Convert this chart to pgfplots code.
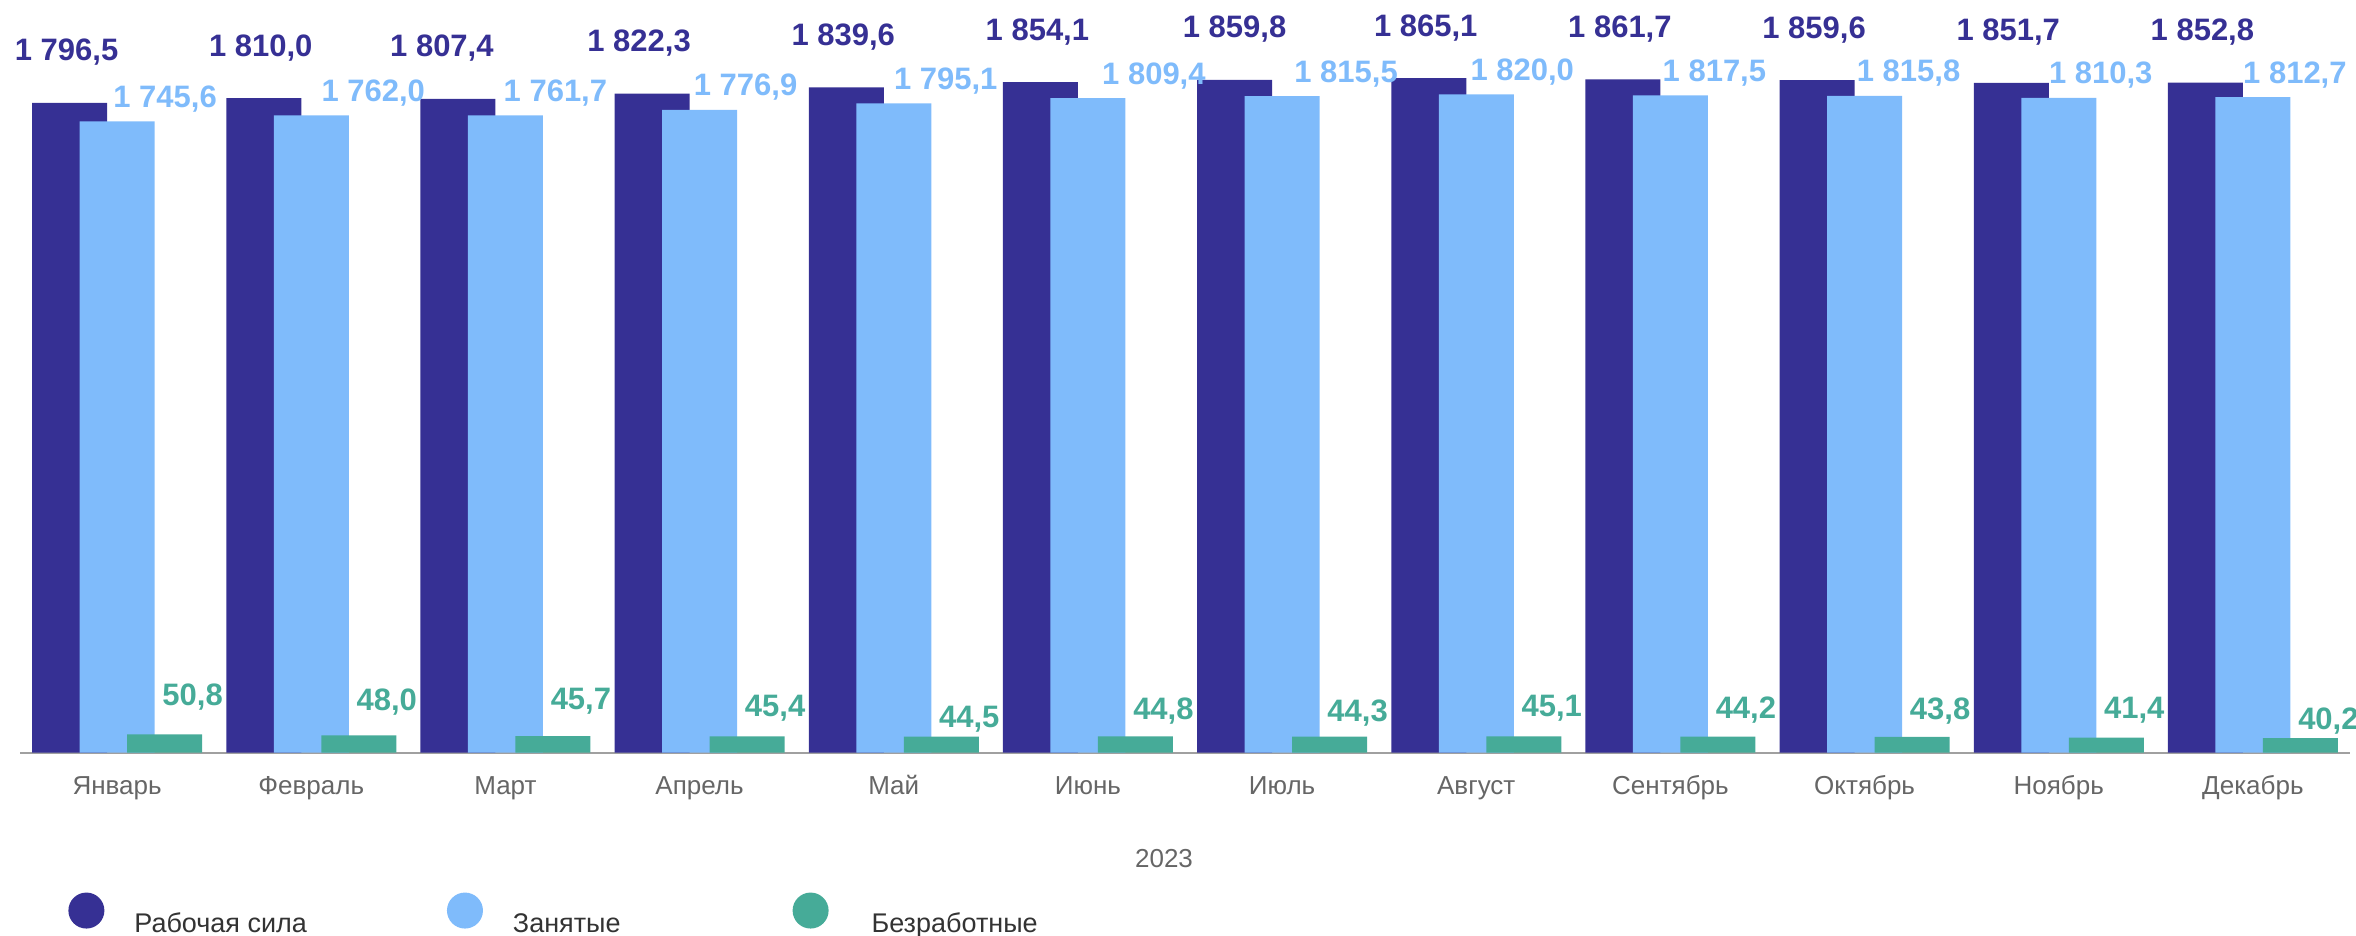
\documentclass[border=0pt]{standalone}
\usepackage{fontspec}
\setmainfont{Liberation Sans}
\usepackage{pgfplots}
\pgfplotsset{compat=1.18}

\definecolor{cdark}{HTML}{363094}
\definecolor{clight}{HTML}{7FBBFB}
\definecolor{cgreen}{HTML}{46AB98}
\definecolor{cgrid}{HTML}{A0A0A0}
\definecolor{ctick}{HTML}{666666}
\definecolor{clegend}{HTML}{333333}

\newcommand{\barfont}{\fontsize{15.5}{18}\selectfont\bfseries}

\begin{document}
\begin{tikzpicture}
\useasboundingbox (-10pt,-91.65pt) rectangle (1168pt,376.35pt);
\begin{axis}[
    width=1165pt, height=376.35pt,
    scale only axis,
    ybar,
    bar width=37.5pt,
    xmin=-0.5, xmax=11.5,
    ymin=0, ymax=2081,
    clip=false,
    axis x line*=bottom,
    axis y line=none,
    x axis line style={draw=cgrid, line width=1pt, -},
    ytick=\empty,
    xtick={0,...,11},
    xticklabels={Январь,Февраль,Март,Апрель,Май,Июнь,Июль,Август,Сентябрь,Октябрь,Ноябрь,Декабрь},
    xtick style={draw=none},
    xticklabel style={anchor=base, yshift=-16.5pt, text=ctick, font=\fontsize{13}{15}\selectfont},
    xlabel={2023},
    xlabel style={at={(axis description cs:0.491,0)}, anchor=base, yshift=-57.65pt,
        text=ctick, font=\fontsize{13}{15}\selectfont},
    /pgf/number format/.cd, fixed, fixed zerofill, precision=1, use comma,
        1000 sep={\ }, assume math mode=true,
    /pgfplots/.cd,
    legend columns=3,
    legend style={draw=none, fill=none, inner sep=0pt,
        at={(axis description cs:0.0206,-0.2173)}, anchor=west,
        font=\fontsize{13.5}{16}\selectfont, text=clegend,
        column sep=13pt,
        /tikz/column 2/.style={column sep=68pt},
        /tikz/column 4/.style={column sep=84pt},
        /tikz/column 5/.style={column sep=19.5pt}},
]

% Рабочая сила (dx: label nudge in pt)
\addplot[fill=cdark, draw=none, bar shift=-23.75pt,
    nodes near coords,
    visualization depends on={value \thisrow{dx} \as \labdx},
    every node near coord/.append style={anchor=base, yshift=21pt, xshift=\labdx pt,
        text=cdark, font=\barfont},
    legend image code/.code={\fill[cdark] (0pt,7pt) circle[radius=9pt];}]
table {
x  y       dx
0  1796.5  -1.5
1  1810.0  -1.5
2  1807.4  -8
3  1822.3  -6.5
4  1839.6  -1.5
5  1854.1  -1.5
6  1859.8  0
7  1865.1  -1.5
8  1861.7  -1.5
9  1859.6  -1.5
10 1851.7  -1.5
11 1852.8  -1.5
};
\addlegendentry{Рабочая сила}

% Занятые
\addplot[fill=clight, draw=none, bar shift=0pt,
    nodes near coords,
    visualization depends on={value \thisrow{dx} \as \labdx},
    every node near coord/.append style={anchor=base, yshift=7pt, xshift=\labdx pt,
        text=clight, font=\barfont},
    legend image code/.code={\fill[clight] (0pt,7pt) circle[radius=9pt];}]
table {
x  y       dx
0  1745.6  24
1  1762.0  31
2  1761.7  25
3  1776.9  23
4  1795.1  26
5  1809.4  33
6  1815.5  32
7  1820.0  23
8  1817.5  22
9  1815.8  22
10 1810.3  21
11 1812.7  21
};
\addlegendentry{Занятые}

% Безработные (gap: label lift above the bar in pt)
\addplot[fill=cgreen, draw=none, bar shift=23.75pt,
    nodes near coords,
    visualization depends on={value \thisrow{gap} \as \labgap},
    every node near coord/.append style={anchor=base, yshift=\labgap pt, xshift=14pt,
        text=cgreen, font=\barfont},
    legend image code/.code={\fill[cgreen] (0pt,7pt) circle[radius=9pt];}]
table {
x  y     gap
0  50.8  14.2
1  48.0  12.2
2  45.7  13.1
3  45.4  9.7
4  44.5  4.8
5  44.8  8.3
6  44.3  7.4
7  45.1  9.7
8  44.2  8.9
9  43.8  8.5
10 41.4  9.4
11 40.2  4.1
};
\addlegendentry{Безработные}

\end{axis}
\end{tikzpicture}
\end{document}
